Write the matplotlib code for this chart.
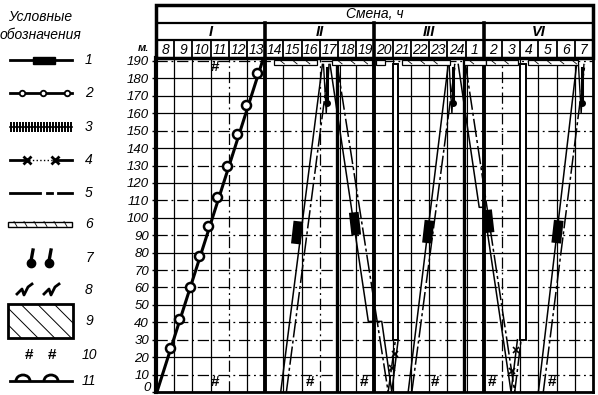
import numpy as np
import matplotlib
matplotlib.use("Agg")
import matplotlib.pyplot as plt
from matplotlib.patches import Rectangle, Arc

plt.rcParams["font.family"] = ["Liberation Sans", "DejaVu Sans"]
plt.rcParams["font.style"] = "italic"
plt.rcParams["hatch.linewidth"] = 0.7

# ── header / axis data ───────────────────────────────────────────────────────
HOURS  = ["8", "9", "10", "11", "12", "13", "14", "15", "16", "17", "18", "19",
          "20", "21", "22", "23", "24", "1", "2", "3", "4", "5", "6", "7"]
SHIFTS = ["I", "II", "III", "VI"]
Y_TICKS = list(range(0, 200, 10))
SOLID_ROWS = [180, 170, 160, 140, 120, 100, 80, 50, 20]

LEGEND_NUMS = ["1", "2", "3", "4", "5", "6", "7", "8", "9", "10", "11"]

# ── series (x = hour column index from 8 o'clock, y = metres) ────────────────
shift1_h = [0.05, 5.85]
shift1_m = [0, 190]
loops_h  = [0.75, 1.25, 1.85, 2.35, 2.85, 3.35, 3.9, 4.45, 4.95, 5.55]
loops_m  = [25, 42, 60, 78, 95, 112, 130, 148, 165, 183]

rise_a_h = [[6.85, 9.14], [13.85, 16.05], [21.0, 23.1]]
rise_b_h = [[7.16, 9.5], [14.05, 16.43], [21.27, 23.55]]
rise_m   = [0, 188]

down_c_h = [9.56, 11.66, 12.4, 12.95, 13.3]
down_c_m = [188, 40.5, 40.5, 0, 30]
down_d_h = [9.95, 12.75, 13.15]
down_d_m = [188, 0, 30]
down_g_h = [16.6, 17.75, 18.0, 19.5, 19.85]
down_g_m = [188, 106, 106, 0, 30]
down_k_h = [17.0, 19.7, 20.05]
down_k_m = [188, 0, 30]

blocks_h   = [7.75, 10.93, 14.95, 18.25, 22.05]
blocks_m   = [91.5, 96.6, 92, 98, 92]
blocks_dir = [1, -1, 1, -1, 1]

hash_h = [3.24, 3.24, 8.46, 11.4, 15.33, 18.46, 21.76]
hash_m = [186.5, 5.5, 5.5, 5.5, 5.5, 5.5, 5.5]

top_bars = [(6.5, 8.85), (9.67, 11.87), (12.1, 12.6), (13.5, 16.15),
            (16.9, 18.1), (18.1, 19.9), (20.45, 23.2)]
shafts_h = [13.0, 20.0]
shafts_m = [30, 188]
therm_h  = [9.35, 16.25, 23.35]
therm_m  = [160, 160, 160]
xmark_h  = [12.95, 13.1, 19.55, 19.75]
xmark_m  = [14, 22, 12, 24]

W, H = 598, 395
fig = plt.figure(figsize=(W / 100, H / 100), dpi=100)

# main grid axes
L, R, T, B = 156, 593, 58, 392
ax = fig.add_axes([L / W, (H - B) / H, (R - L) / W, (B - T) / H])
ax.set_xlim(0, 24)
ax.set_ylim(0, 191.7)

for m in Y_TICKS[1:]:
    if m in SOLID_ROWS:
        ax.axhline(m, color="k", lw=0.9)
    else:
        ax.axhline(m, color="k", lw=0.9, ls=(0, (9, 3, 1.5, 3)))
for i in range(1, 24):
    if i in (6, 12, 18):
        ax.axvline(i, color="k", lw=2.8)
    elif i in (10, 17):
        ax.axvline(i - 0.06, color="k", lw=2.4)
        ax.axvline(i + 0.1, color="k", lw=0.8)
    elif i in (4, 9, 19):
        ax.axvline(i, color="k", lw=0.9, ls=(0, (9, 3, 1.5, 3)))
    else:
        ax.axvline(i, color="k", lw=0.9)

# shift I advance line with loops
ax.plot(shift1_h, shift1_m, color="k", lw=2.2)
ax.plot(loops_h, loops_m, "o", ms=6.5, mfc="white", mec="k", mew=1.8)

# rising pairs
for a, b in zip(rise_a_h, rise_b_h):
    ax.plot(a, rise_m, color="k", lw=1.1)
    ax.plot(b, rise_m, color="k", lw=1.1, ls=(0, (12, 2, 2, 2)))

# descending lines
ax.plot(down_c_h, down_c_m, color="k", lw=1.1)
ax.plot(down_d_h, down_d_m, color="k", lw=1.1, ls=(0, (12, 2, 2, 2)))
ax.plot(down_g_h, down_g_m, color="k", lw=1.1)
ax.plot(down_k_h, down_k_m, color="k", lw=1.1, ls=(0, (12, 2, 2, 2)))

# heavy blocks on the lines
for h, m, d in zip(blocks_h, blocks_m, blocks_dir):
    ax.plot([h - 0.07 * d, h + 0.07 * d], [m - 6.5, m + 6.5],
            color="k", lw=7, solid_capstyle="butt")

# hollow bars along the top and the two shafts
for x0, x1 in top_bars:
    ax.add_patch(Rectangle((x0, 187.6), x1 - x0, 3.2, fill=True, fc="white",
                           ec="k", lw=0.9, clip_on=False, zorder=3))
    for xx in np.arange(x0 + 0.35, x1 - 0.2, 0.7):
        ax.plot([xx, xx + 0.2], [190.0, 188.3], color="k", lw=0.6, zorder=4)
for h in shafts_h:
    ax.add_patch(Rectangle((h, shafts_m[0]), 0.3, shafts_m[1] - shafts_m[0],
                           fill=True, fc="white", ec="k", lw=1.4, zorder=3))

# hanging thermometer marks near the apexes
for h, m in zip(therm_h, therm_m):
    ax.plot([h - 0.15, h, h + 0.15], [188, m, 188], color="k", lw=1.0)
    ax.plot([h + 0.05, h + 0.05], [186, m + 8], color="k", lw=2.2)
    ax.plot(h + 0.05, m + 6, "o", color="k", ms=4)

ax.plot(xmark_h, xmark_m, "x", color="k", ms=4, mew=1.2)

for h, m in zip(hash_h, hash_m):
    ax.text(h, m, "#", fontsize=11, fontweight="bold", fontstyle="normal",
            ha="center", va="center")

ax.set_xticks([])
ax.set_yticks(Y_TICKS)
ax.set_yticklabels([""] + [str(v) for v in Y_TICKS[1:]], fontsize=9.5)
ax.tick_params(axis="y", length=3, width=1, pad=2)
ax.spines["left"].set_linewidth(3)
ax.spines["right"].set_linewidth(2)
ax.spines["bottom"].set_linewidth(2)
ax.spines["top"].set_linewidth(1)

# header table
hx = fig.add_axes([L / W, (H - T) / H, (R - L) / W, (T - 5) / H])
hx.set_xlim(0, 24)
hx.set_ylim(0, 3)
hx.axis("off")
hx.add_patch(Rectangle((0, 0), 24, 3, fill=False, ec="k", lw=2.5, clip_on=False))
hx.plot([0, 24], [2, 2], color="k", lw=1.6)
hx.plot([0, 24], [1, 1], color="k", lw=1.6)
for i in range(1, 24):
    if i % 6 == 0:
        hx.plot([i, i], [0, 2], color="k", lw=2.6)
    else:
        hx.plot([i, i], [0, 1], color="k", lw=1.3)
hx.text(12, 2.5, "Смена, ч", fontsize=10, ha="center", va="center")
for j, s in enumerate(SHIFTS):
    hx.text(6 * j + 3, 1.5, s, fontsize=10.5, fontweight="bold",
            ha="center", va="center")
for i, hr in enumerate(HOURS):
    hx.text(i + 0.5, 0.48, hr, fontsize=10, ha="center", va="center")

# legend column (pixel overlay)
ov = fig.add_axes([0, 0, 1, 1])
ov.set_xlim(0, W)
ov.set_ylim(H, 0)
ov.axis("off")

ov.text(143, 48, "м.", fontsize=8, fontweight="bold", ha="center", va="center")
ov.text(150.5, 388, str(Y_TICKS[0]), fontsize=9.5, ha="right", va="center")
ov.text(40, 17, "Условные", fontsize=10, ha="center", va="center")
ov.text(40, 35, "обозначения", fontsize=10, ha="center", va="center")

rows_y = [60, 93, 127, 160, 193, 224, 258, 290, 321, 355, 381]
for n, y in zip(LEGEND_NUMS, rows_y):
    ov.text(89, y, n, fontsize=10, ha="center", va="center")

y = rows_y[0]
ov.plot([10, 72], [y, y], color="k", lw=2)
ov.add_patch(Rectangle((33, y - 3.5), 22, 7, color="k"))
y = rows_y[1]
ov.plot([10, 72], [y, y], color="k", lw=2)
ov.plot([22, 43, 67], [y] * 3, "o", ms=4, mfc="white", mec="k", mew=1.3)
y = rows_y[2]
ov.plot([10, 72], [y, y], color="k", lw=1.2)
ov.plot(np.arange(11, 72, 3.0), [y] * 21, "|", color="k", ms=7, mew=1.4)
y = rows_y[3]
ov.plot([10, 25], [y, y], color="k", lw=2)
ov.plot([25, 55], [y, y], color="k", lw=1, ls=":")
ov.plot([55, 72], [y, y], color="k", lw=2)
ov.plot([27, 55], [y, y], "x", color="k", ms=6, mew=2)
y = rows_y[4]
ov.plot([10, 40], [y, y], color="k", lw=2)
ov.plot([47, 52], [y, y], color="k", lw=2)
ov.plot([58, 72], [y, y], color="k", lw=2)
y = rows_y[5]
ov.add_patch(Rectangle((8, y - 2.5), 64, 5, fill=False, ec="k", lw=1))
for xx in range(14, 70, 10):
    ov.plot([xx, xx + 3], [y - 2.5, y + 2.5], color="k", lw=0.6)
y = rows_y[6]
for xx in (32, 50):
    ov.plot([xx + 1, xx - 1], [y - 8, y + 3], color="k", lw=2.4)
    ov.plot(xx - 1, y + 5, "o", color="k", ms=6)
y = rows_y[7]
for xx in (25, 52):
    ov.plot([xx - 8, xx - 3, xx - 1, xx + 3, xx + 7],
            [y + 4, y - 1, y + 5, y - 3, y - 6], color="k", lw=2)
y = rows_y[8]
ov.add_patch(Rectangle((8, y - 17), 65, 34, fill=False, ec="k", lw=2,
                       hatch="\\\\"))
y = rows_y[9]
for xx in (29, 52):
    ov.text(xx, y, "#", fontsize=11, fontweight="bold", fontstyle="normal",
            ha="center", va="center")
y = rows_y[10]
ov.plot([10, 72], [y, y], color="k", lw=2)
for xx in (23, 51):
    ov.add_patch(Arc((xx, y), 14, 12, theta1=180, theta2=360, color="k", lw=2))

fig.savefig("out.png", dpi=100)
